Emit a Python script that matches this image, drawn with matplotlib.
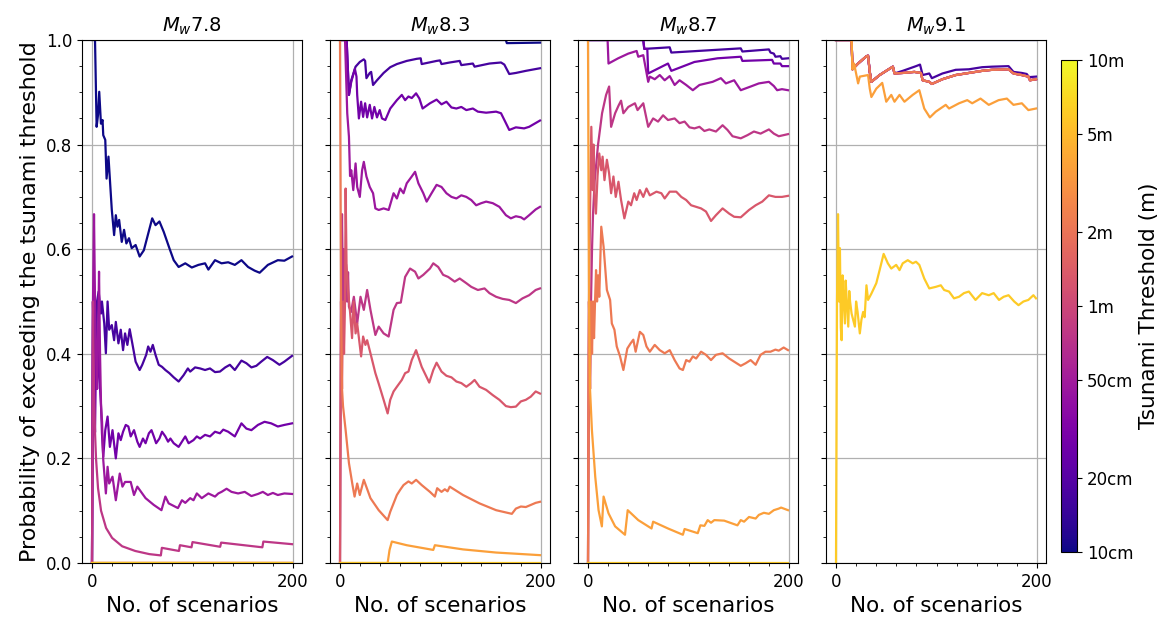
import matplotlib
matplotlib.use("Agg")
import matplotlib.pyplot as plt
from matplotlib.colors import LogNorm
from matplotlib.cm import ScalarMappable
from matplotlib.ticker import MultipleLocator, NullLocator

magnitudes = ["7.8", "8.3", "8.7", "9.1"]
thresholds = [0.1, 0.2, 0.3, 0.5, 1.0, 2.0, 3.0, 5.0, 10.0]
cbar_ticks = [0.1, 0.2, 0.5, 1, 2, 5, 10]
cbar_labels = ["10cm", "20cm", "50cm", "1m", "2m", "5m", "10m"]

# (number of scenarios, running probability)
zero = [(0, 0.0), (199, 0.0)]
one = [(0, 1.0), (199, 1.0)]

# ---- Mw 7.8
m78_10cm = [(0, 1.0), (3, 1.0), (4.6, 0.834), (6, 0.857), (7.2, 0.901), (8.9, 0.840), (10.5, 0.847), (11.2, 0.818),
            (13.2, 0.809), (14.5, 0.735), (16.4, 0.777), (19.7, 0.675), (22, 0.627), (23.7, 0.665), (25.3, 0.643),
            (27, 0.656), (29.6, 0.614), (31.9, 0.637), (34.2, 0.611), (36.8, 0.621), (39.5, 0.602), (43.4, 0.608),
            (47.4, 0.586), (51.6, 0.598), (59.9, 0.659), (63.2, 0.646), (67.1, 0.653), (71.4, 0.633), (77, 0.602),
            (81.3, 0.579), (86.2, 0.566), (92.8, 0.573), (99.3, 0.565), (105.9, 0.570), (112.5, 0.573), (115.8, 0.561),
            (122.4, 0.579), (128.9, 0.573), (135.5, 0.575), (142.1, 0.570), (148.7, 0.579), (155.3, 0.566),
            (161.8, 0.559), (166.8, 0.555), (175, 0.570), (184.9, 0.579), (191.4, 0.578), (199, 0.586)]
m78_20cm = [(0, 0.0), (1, 0.5), (2, 0.333), (3, 0.5), (4, 0.4), (5, 0.5), (6.6, 0.519), (8.9, 0.477), (9.9, 0.500),
            (12.2, 0.458), (13.8, 0.401), (15.5, 0.500), (17.1, 0.446), (19.7, 0.455), (22, 0.426), (23.7, 0.461),
            (26.3, 0.420), (28.6, 0.446), (30.9, 0.407), (32.9, 0.439), (35.2, 0.417), (37.5, 0.447), (40.1, 0.420),
            (43.4, 0.385), (47.4, 0.369), (50, 0.379), (53.9, 0.398), (55.9, 0.414), (58.2, 0.404), (60.5, 0.417),
            (63.2, 0.398), (66.4, 0.379), (69.7, 0.375), (73, 0.369), (77, 0.363), (81.3, 0.355), (86.2, 0.347),
            (91.1, 0.359), (95.4, 0.372), (97.7, 0.366), (102.6, 0.374), (107.6, 0.372), (112.5, 0.369),
            (117.4, 0.372), (122.4, 0.365), (127.3, 0.366), (132.6, 0.374), (137.2, 0.379), (142.1, 0.369),
            (148.7, 0.387), (153.6, 0.382), (158.6, 0.374), (163.5, 0.377), (168.4, 0.385), (174.3, 0.394),
            (179.9, 0.388), (186.5, 0.379), (191.4, 0.385), (199, 0.396)]
m78_30cm = [(0, 0.0), (1, 0.5), (2, 0.333), (3, 0.25), (4, 0.4), (5, 0.333), (6, 0.43), (7, 0.375), (8, 0.333),
            (9, 0.3), (9.9, 0.248), (11.2, 0.203), (13.2, 0.254), (15.5, 0.280), (17.8, 0.222), (20.4, 0.254),
            (23.7, 0.200), (26.3, 0.248), (28.6, 0.235), (30.9, 0.251), (33.6, 0.264), (36.2, 0.261), (38.5, 0.242),
            (41.8, 0.254), (45.1, 0.232), (47.4, 0.222), (50.7, 0.238), (53.3, 0.229), (56.6, 0.248), (59.2, 0.254),
            (61.5, 0.242), (63.8, 0.229), (67.1, 0.238), (69.7, 0.251), (73, 0.242), (75.7, 0.232), (78, 0.238),
            (81.3, 0.229), (86.2, 0.222), (89.5, 0.232), (92.8, 0.242), (96.1, 0.229), (101, 0.235), (104.3, 0.242),
            (107.6, 0.238), (112.5, 0.245), (117.4, 0.242), (122.4, 0.251), (127.3, 0.248), (130.6, 0.255),
            (135.5, 0.251), (142.1, 0.242), (148.7, 0.267), (153.6, 0.257), (158.6, 0.254), (165.1, 0.264),
            (171.7, 0.270), (178.3, 0.267), (184.9, 0.261), (191.4, 0.264), (199, 0.267)]
m78_50cm = [(0, 0.0), (1, 0.5), (2, 0.667), (3, 0.5), (4, 0.4), (5, 0.333), (6, 0.43), (7, 0.557), (8, 0.4), (9, 0.3),
            (10, 0.27), (11.2, 0.197), (13.8, 0.133), (15.5, 0.184), (17.1, 0.152), (20.4, 0.165), (23.7, 0.120),
            (27.6, 0.171), (30.3, 0.146), (32.9, 0.155), (38.5, 0.155), (41.8, 0.130), (45.1, 0.146), (53.3, 0.124),
            (61.5, 0.111), (69.1, 0.101), (73, 0.127), (76.3, 0.114), (85.5, 0.105), (89.5, 0.120), (92.8, 0.115),
            (97.7, 0.124), (101, 0.120), (104.3, 0.133), (109.2, 0.124), (115.8, 0.133), (122.4, 0.127),
            (125.7, 0.133), (128.9, 0.136), (133.9, 0.142), (138.8, 0.136), (145.4, 0.133), (152, 0.136),
            (158.6, 0.128), (165.1, 0.132), (170, 0.136), (175, 0.130), (180, 0.134), (184.9, 0.130), (191.4, 0.133),
            (199, 0.132)]
m78_1m = [(0, 0.0), (1, 0.5), (2, 0.333), (3, 0.25), (4, 0.2), (6, 0.143), (9, 0.1), (14, 0.067), (20, 0.048),
          (30, 0.032), (43, 0.023), (57, 0.017), (68.5, 0.0145), (69.5, 0.029), (86.5, 0.023), (87.5, 0.034),
          (99, 0.030), (100, 0.040), (127.5, 0.031), (128.5, 0.039), (169.5, 0.030), (170.5, 0.041), (199, 0.036)]

# ---- Mw 8.3
m83_10cm = [(0, 1.0), (165, 1.0), (166, 0.994), (199, 0.995)]
m83_20cm = [(0, 1.0), (6.6, 1.0), (8.9, 0.895), (11.2, 0.923), (15.5, 0.949), (19.7, 0.958), (23.7, 0.963),
            (25, 0.960), (26.3, 0.927), (29.6, 0.937), (31, 0.939), (32.9, 0.914), (36.8, 0.923), (43.4, 0.937),
            (50, 0.948), (56.6, 0.954), (66.4, 0.960), (76.3, 0.964), (80.3, 0.965), (81.3, 0.954), (96.1, 0.960),
            (99.5, 0.961), (101, 0.954), (109.2, 0.957), (119.1, 0.960), (120.7, 0.952), (132.2, 0.955),
            (133.9, 0.949), (148.7, 0.955), (160.2, 0.957), (163.5, 0.953), (168.4, 0.935), (175, 0.937),
            (184.9, 0.941), (199, 0.946)]
m83_30cm = [(0, 1.0), (6.6, 1.0), (8.9, 0.895), (11.2, 0.920), (14.8, 0.945), (16.4, 0.930), (17.1, 0.895),
            (18.8, 0.850), (21, 0.882), (23, 0.853), (25, 0.879), (27, 0.852), (29.6, 0.876), (31.9, 0.850),
            (34.2, 0.872), (36.8, 0.852), (39.5, 0.866), (41.8, 0.850), (45.1, 0.847), (50, 0.869), (56.6, 0.885),
            (61.5, 0.895), (64.8, 0.885), (68.1, 0.892), (71.4, 0.889), (75.7, 0.898), (79, 0.888), (82.2, 0.869),
            (89.5, 0.879), (96.1, 0.886), (101, 0.877), (105.9, 0.882), (110.9, 0.871), (115.8, 0.869),
            (120.7, 0.872), (125.7, 0.866), (132.2, 0.869), (137.2, 0.863), (145.4, 0.861), (155.3, 0.863),
            (160.2, 0.860), (165.1, 0.841), (168.4, 0.828), (175, 0.833), (183.2, 0.831), (188.2, 0.834),
            (199, 0.846)]
m83_50cm = [(0, 1.0), (5, 1.0), (7.2, 0.86), (8.9, 0.815), (10, 0.74), (11.2, 0.751), (13.2, 0.713), (15.5, 0.764),
            (17.1, 0.719), (19.7, 0.700), (22, 0.751), (23.7, 0.767), (26.3, 0.739), (29.6, 0.719), (32.9, 0.707),
            (35.2, 0.678), (38.5, 0.675), (43.4, 0.678), (48.4, 0.675), (53.3, 0.707), (56.6, 0.697), (59.9, 0.716),
            (63.2, 0.707), (66.4, 0.726), (71.4, 0.739), (74.7, 0.748), (78, 0.726), (82.9, 0.707), (86.2, 0.691),
            (91.1, 0.707), (96.1, 0.723), (101, 0.719), (105.9, 0.707), (110.9, 0.700), (115.8, 0.697),
            (120.7, 0.703), (125.7, 0.700), (130.6, 0.694), (135.5, 0.684), (140.5, 0.688), (145.4, 0.691),
            (152, 0.688), (158.6, 0.681), (165.1, 0.665), (170, 0.659), (175, 0.663), (180, 0.661), (183.2, 0.657),
            (188.2, 0.665), (194.7, 0.676), (199, 0.681)]
m83_1m = [(0, 0.0), (1, 0.5), (2, 0.667), (3, 0.5), (4, 0.6), (5, 0.5), (6, 0.571), (7, 0.5), (8, 0.556),
          (8.9, 0.490), (11, 0.48), (13.8, 0.509), (17.1, 0.458), (20.4, 0.509), (23.7, 0.484), (27, 0.522),
          (30.3, 0.484), (35.2, 0.436), (38.5, 0.452), (43.4, 0.439), (48.4, 0.433), (53.3, 0.484), (56.6, 0.497),
          (60.5, 0.498), (64.8, 0.547), (69.7, 0.563), (74.7, 0.557), (78, 0.544), (82.9, 0.551), (89.5, 0.563),
          (92.8, 0.573), (97.7, 0.566), (102.6, 0.551), (107.6, 0.547), (114.1, 0.538), (119.1, 0.544),
          (125.7, 0.535), (130.6, 0.528), (137.2, 0.522), (143.8, 0.525), (148.7, 0.516), (155.3, 0.509),
          (161.8, 0.505), (168.4, 0.503), (175, 0.497), (181.6, 0.506), (188.2, 0.512), (194.7, 0.522),
          (199, 0.525)]
m83_2m = [(0, 0.0), (1, 0.5), (2, 0.333), (3, 0.5), (4, 0.4), (5, 0.5), (5.6, 0.716), (6.5, 0.57), (8, 0.52),
          (10, 0.48), (12, 0.43), (13.5, 0.50), (15.5, 0.439), (17.1, 0.458), (21, 0.395), (23, 0.433),
          (25.3, 0.417), (27, 0.426), (30.3, 0.401), (35.2, 0.363), (38.5, 0.343), (43.4, 0.312), (47.4, 0.286),
          (50, 0.312), (53.3, 0.328), (56.6, 0.337), (61.5, 0.350), (64.8, 0.363), (68.1, 0.366), (71.4, 0.388),
          (75.7, 0.407), (81.3, 0.375), (88.8, 0.345), (92.8, 0.369), (96.1, 0.383), (101, 0.366), (105.9, 0.358),
          (110.9, 0.355), (115.8, 0.347), (120.7, 0.344), (125.7, 0.337), (130.6, 0.344), (133.9, 0.350),
          (138.8, 0.337), (145.4, 0.331), (152, 0.321), (158.6, 0.312), (165.1, 0.300), (170, 0.298),
          (175, 0.299), (180, 0.309), (184.9, 0.312), (189.8, 0.318), (194.7, 0.328), (199, 0.324)]
m83_3m = [(0, 1.0), (1, 0.5), (2, 0.333), (3, 0.3), (5.6, 0.254), (8.9, 0.191), (12.2, 0.152), (14.5, 0.127),
          (17.1, 0.152), (19.7, 0.130), (23.7, 0.159), (30.3, 0.124), (38.5, 0.101), (47.4, 0.082), (50, 0.098),
          (53.3, 0.114), (56.6, 0.130), (59.9, 0.140), (63.2, 0.149), (68.1, 0.156), (71.4, 0.152), (75.7, 0.159),
          (81.3, 0.149), (89.5, 0.136), (94.4, 0.127), (96.7, 0.143), (101, 0.136), (104.3, 0.141), (107, 0.137),
          (109.2, 0.146), (122.4, 0.130), (138.8, 0.114), (155.3, 0.101), (171, 0.094), (175, 0.104),
          (180, 0.108), (184.9, 0.107), (189.8, 0.111), (194.7, 0.115), (199, 0.117)]
m83_5m = [(0, 0.0), (47.4, 0.0), (49.3, 0.025), (51.6, 0.041), (66.4, 0.034), (92.8, 0.025), (94.4, 0.034),
          (122.4, 0.026), (155.3, 0.020), (199, 0.015)]

# ---- Mw 8.7
m87_20cm = [(0, 1.0), (55, 1.0), (56, 0.983), (81.3, 0.986), (82.9, 0.976), (152, 0.984), (153.6, 0.978),
            (180, 0.982), (181.6, 0.976), (184.9, 0.974), (186.5, 0.968), (191.4, 0.969), (193, 0.964), (199, 0.965)]
m87_30cm = [(0, 1.0), (55, 1.0), (56, 0.983), (59, 0.983), (59.9, 0.936), (79.6, 0.955), (82.9, 0.941),
            (105.9, 0.958), (128.9, 0.965), (152, 0.968), (153.6, 0.960), (183.2, 0.962), (184.9, 0.955),
            (191.4, 0.955), (193, 0.950), (199, 0.950)]
m87_50cm = [(0, 1.0), (19.5, 1.0), (20.4, 0.955), (30, 0.965), (40.1, 0.974), (48.4, 0.979), (50, 0.968),
            (55, 0.971), (59.9, 0.920), (61.5, 0.930), (66.4, 0.925), (71.4, 0.933), (76.3, 0.923), (81.3, 0.931),
            (86.2, 0.914), (91.1, 0.923), (97.7, 0.914), (104.3, 0.904), (110.9, 0.914), (117.4, 0.917),
            (124, 0.920), (132.2, 0.927), (137.2, 0.917), (145.4, 0.923), (152, 0.904), (161.8, 0.911),
            (170, 0.917), (180, 0.920), (184.9, 0.912), (188.2, 0.904), (193, 0.906), (199, 0.904)]
m87_1m = [(0, 0.0), (1, 0.5), (2, 0.333), (3, 0.5), (4, 0.6), (5, 0.667), (6.6, 0.73), (10, 0.80), (14, 0.86),
          (18, 0.895), (21, 0.911), (23, 0.834), (27, 0.86), (30.5, 0.875), (32.9, 0.884), (35.2, 0.860),
          (40.1, 0.872), (46.7, 0.879), (49.3, 0.866), (55, 0.879), (59.9, 0.834), (64.8, 0.850), (69.7, 0.844),
          (74.7, 0.856), (79.6, 0.847), (86.2, 0.850), (91.1, 0.841), (96.1, 0.844), (101, 0.833), (105.9, 0.831),
          (110.9, 0.834), (115.8, 0.826), (120.7, 0.829), (127.3, 0.825), (133.9, 0.837), (138.8, 0.828),
          (143.8, 0.816), (152, 0.812), (158.6, 0.818), (165.1, 0.825), (171.7, 0.821), (180, 0.829),
          (184.9, 0.821), (189.8, 0.816), (199, 0.820)]
m87_2m = [(0, 0.0), (1, 0.5), (2, 0.667), (3.3, 0.834), (4.6, 0.713), (5.5, 0.80), (6.5, 0.70), (7.9, 0.668),
          (9.5, 0.74), (11.2, 0.783), (13.2, 0.751), (14.5, 0.777), (16.4, 0.732), (18.8, 0.771), (21, 0.745),
          (23, 0.707), (25.3, 0.739), (27.6, 0.700), (30.3, 0.729), (32.9, 0.694), (36.2, 0.659), (40.1, 0.691),
          (42.8, 0.684), (46, 0.707), (48.4, 0.694), (51.6, 0.713), (55, 0.700), (58.2, 0.716), (61.5, 0.703),
          (68.1, 0.710), (73, 0.707), (76.3, 0.697), (81.3, 0.710), (87.8, 0.710), (92.8, 0.700), (97.7, 0.694),
          (102.6, 0.684), (107.6, 0.681), (112.5, 0.678), (117.4, 0.672), (122.4, 0.654), (127.3, 0.665),
          (133.9, 0.678), (140.5, 0.668), (145.4, 0.662), (152, 0.661), (160.2, 0.675), (166.8, 0.684),
          (173.4, 0.691), (180, 0.703), (186.5, 0.700), (193, 0.700), (199, 0.702)]
m87_3m = [(0, 0.0), (1, 0.5), (2, 0.333), (3, 0.5), (4, 0.4), (5, 0.5), (6, 0.43), (7, 0.5), (8, 0.56), (9, 0.5),
          (10, 0.55), (11.2, 0.509), (13.2, 0.643), (15.5, 0.605), (18.8, 0.522), (22, 0.503), (23.7, 0.458),
          (26.3, 0.446), (28.6, 0.414), (31.9, 0.395), (35.2, 0.369), (39.1, 0.410), (42.4, 0.420), (45.1, 0.427),
          (47.4, 0.404), (51.6, 0.442), (55, 0.436), (58.2, 0.414), (61.5, 0.404), (66.4, 0.417), (71.4, 0.407),
          (76.3, 0.401), (81.3, 0.407), (86.2, 0.388), (91.1, 0.372), (94.4, 0.369), (97.7, 0.388), (101, 0.385),
          (104.3, 0.395), (107.6, 0.391), (112.5, 0.404), (117.4, 0.398), (122.4, 0.388), (127.3, 0.398),
          (133.9, 0.401), (140.5, 0.391), (145.4, 0.385), (152, 0.377), (156.9, 0.382), (161.8, 0.388),
          (166.8, 0.379), (171.7, 0.398), (176.6, 0.404), (181.6, 0.404), (186.5, 0.408), (189.8, 0.406),
          (194.7, 0.412), (199, 0.407)]
m87_5m = [(0, 1.0), (1, 0.5), (2, 0.333), (3.9, 0.254), (7.2, 0.165), (10.5, 0.101), (13.8, 0.070), (15.5, 0.127),
          (20.4, 0.095), (27, 0.070), (36.8, 0.054), (39.5, 0.101), (50, 0.082), (63.2, 0.066), (64.8, 0.079),
          (79.6, 0.066), (94.4, 0.054), (96.1, 0.065), (109.2, 0.057), (111.8, 0.072), (115.8, 0.071),
          (119.1, 0.082), (122.4, 0.077), (125.7, 0.082), (135.5, 0.081), (148.7, 0.072), (152, 0.082),
          (155.3, 0.079), (160.2, 0.088), (166.8, 0.085), (170, 0.092), (175, 0.096), (180, 0.094),
          (184.9, 0.101), (189.8, 0.104), (192.1, 0.106), (199, 0.101)]

# ---- Mw 9.1
m91_20cm = [(0, 1.0), (15.5, 1.0), (16.4, 0.944), (22, 0.955), (30.3, 0.969), (31.9, 0.970), (33.6, 0.939),
            (35.2, 0.920), (43.4, 0.933), (51.6, 0.943), (56.6, 0.949), (58.2, 0.936), (66.4, 0.941), (79.6, 0.950),
            (83.6, 0.953), (86.2, 0.933), (92.8, 0.936), (95.4, 0.927), (105.9, 0.936), (119.1, 0.943),
            (132.2, 0.944), (145.4, 0.948), (155.3, 0.949), (171.7, 0.950), (176.6, 0.939), (184.9, 0.937),
            (189.8, 0.935), (192.1, 0.929), (199, 0.930)]
m91_30cm_to_3m = [(0, 1.0), (15.5, 1.0), (16.4, 0.944), (22, 0.955), (30.3, 0.969), (31.9, 0.970), (33.6, 0.939),
                  (35.2, 0.920), (43.4, 0.933), (51.6, 0.943), (56.6, 0.949), (58.2, 0.936), (66.4, 0.937),
                  (78, 0.939), (84.5, 0.937), (86.2, 0.923), (92.8, 0.920), (95.4, 0.916), (105.9, 0.925),
                  (119.1, 0.933), (132.2, 0.937), (145.4, 0.941), (155.3, 0.943), (171.7, 0.944), (176.6, 0.936),
                  (184.9, 0.933), (191.4, 0.930), (193, 0.923), (199, 0.925)]
m91_5m = [(0, 1.0), (15.5, 1.0), (16.4, 0.944), (18, 0.955), (22, 0.917), (23.7, 0.930), (31.9, 0.933),
          (33.6, 0.907), (35.2, 0.891), (40.1, 0.907), (46, 0.918), (50, 0.882), (55, 0.895), (58.2, 0.882),
          (63.2, 0.895), (68.1, 0.882), (76.3, 0.895), (82.9, 0.904), (87.8, 0.869), (93.4, 0.852), (99.3, 0.863),
          (109.2, 0.876), (112.5, 0.869), (122.4, 0.879), (130.6, 0.885), (135.5, 0.879), (143.8, 0.888),
          (152, 0.876), (161.8, 0.885), (170, 0.888), (176.6, 0.876), (184.9, 0.879), (191.4, 0.866), (199, 0.869)]
m91_10m = [(0, 0.0), (1, 0.5), (2, 0.667), (3, 0.5), (3.9, 0.602), (4.8, 0.45), (5.6, 0.426), (6.5, 0.55),
           (7.2, 0.522), (8.9, 0.458), (9.6, 0.54), (10.5, 0.509), (12.2, 0.452), (13.2, 0.52), (14, 0.50),
           (15.5, 0.477), (18.8, 0.452), (20, 0.50), (21.5, 0.48), (23.7, 0.439), (25.3, 0.465), (27, 0.48),
           (28.5, 0.47), (30.3, 0.531), (31.9, 0.503), (35.2, 0.515), (40.1, 0.535), (43.4, 0.560), (47.4, 0.591),
           (51.6, 0.573), (55, 0.563), (59.9, 0.570), (63.2, 0.560), (66.4, 0.573), (71.4, 0.579), (76.3, 0.573),
           (79.6, 0.576), (82.9, 0.570), (87.8, 0.544), (92.8, 0.525), (99.3, 0.528), (104.3, 0.531),
           (107.6, 0.522), (112.5, 0.519), (117.4, 0.506), (122.4, 0.509), (127.3, 0.516), (132.2, 0.519),
           (138.8, 0.503), (145.4, 0.516), (152, 0.512), (156.9, 0.516), (162.2, 0.503), (166.8, 0.509),
           (171.7, 0.512), (177.3, 0.500), (181.6, 0.493), (186.5, 0.500), (191.4, 0.503), (196.4, 0.512),
           (199, 0.506)]

# one list per panel, in the order of `thresholds`
panel_lines = [
    [m78_10cm, m78_20cm, m78_30cm, m78_50cm, m78_1m, zero, zero, zero, zero],
    [m83_10cm, m83_20cm, m83_30cm, m83_50cm, m83_1m, m83_2m, m83_3m, m83_5m, zero],
    [one, m87_20cm, m87_30cm, m87_50cm, m87_1m, m87_2m, m87_3m, m87_5m, zero],
    [one, m91_20cm, m91_30cm_to_3m, m91_30cm_to_3m, m91_30cm_to_3m, m91_30cm_to_3m, m91_30cm_to_3m, m91_5m, m91_10m],
]

cmap = plt.cm.plasma
norm = LogNorm(vmin=0.1, vmax=10)
line_colors = [cmap(i / len(thresholds)) for i in range(len(thresholds))]

fig = plt.figure(figsize=(11.69, 6.19), dpi=100)

lefts = [82, 330, 578, 826]
for i, (mag, lines) in enumerate(zip(magnitudes, panel_lines)):
    ax = fig.add_axes([lefts[i] / 1169, 56 / 619, 220 / 1169, 523 / 619])
    for color, line in zip(line_colors, lines):
        n, p = zip(*line)
        ax.plot(n, p, color=color, lw=1.6)
    ax.set_ylim(0, 1)
    ax.set_xticks([0, 200])
    ax.xaxis.set_minor_locator(MultipleLocator(20))
    ax.set_yticks([0, 0.2, 0.4, 0.6, 0.8, 1.0])
    ax.yaxis.set_minor_locator(MultipleLocator(0.05))
    ax.grid(True, color="#b0b0b0", lw=0.9)
    ax.tick_params(labelsize=12)
    ax.set_title(r"$M_w$" + mag, fontsize=14)
    ax.set_xlabel("No. of scenarios", fontsize=15.5)
    if i == 0:
        ax.set_ylabel("Probability of exceeding the tsunami threshold", fontsize=16)
    else:
        ax.tick_params(labelleft=False)

cax = fig.add_axes([1061 / 1169, 67 / 619, 16 / 1169, 492 / 619])
sm = ScalarMappable(norm=norm, cmap=cmap)
cb = fig.colorbar(sm, cax=cax)
cb.set_ticks(cbar_ticks)
cb.set_ticklabels(cbar_labels)
cb.ax.yaxis.set_minor_locator(NullLocator())
cb.ax.tick_params(labelsize=12)
cb.set_label("Tsunami Threshold (m)", fontsize=15.5)

fig.savefig("out.png", dpi=100)
